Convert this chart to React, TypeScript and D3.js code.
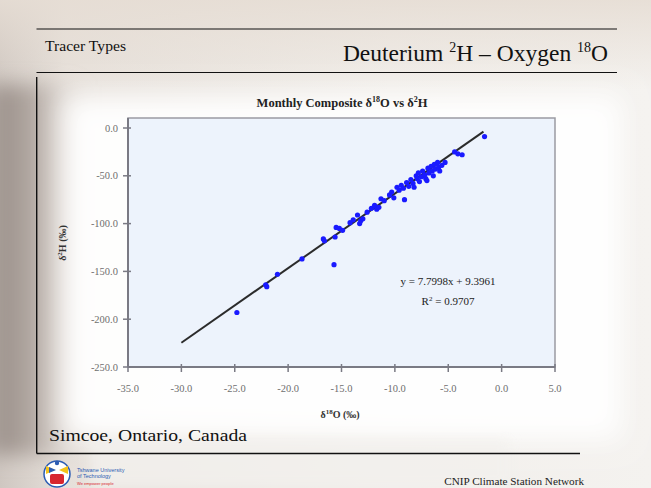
import React from "react";
import * as d3 from "d3";

// ---- data ----
const oxygen18 = [
  -24.8, -22.1, -22.0, -21.0, -18.7, -16.7, -16.6, -15.7, -15.6, -15.5,
  -15.2, -14.9, -14.2, -13.9, -13.5, -13.3, -13.2, -13.0, -12.6, -12.2,
  -11.9, -11.7, -11.5, -11.3, -11.0, -10.5, -10.3, -10.1, -9.8, -9.6,
  -9.4, -9.2, -9.1, -8.9, -8.7, -8.5, -8.3, -8.2, -8.0, -7.9,
  -7.8, -7.7, -7.5, -7.4, -7.2, -7.1, -7.0, -6.9, -6.8, -6.6,
  -6.5, -6.4, -6.3, -6.2, -6.0, -5.9, -5.8, -5.6, -5.3, -4.4,
  -4.1, -3.7, -1.6,
];
const deuterium2 = [
  -193, -164, -166, -153, -137, -116, -118, -143, -114, -104,
  -105, -107, -99, -96, -91, -100, -97, -95, -88, -84,
  -81, -85, -83, -74, -76, -70, -67, -73, -62, -65,
  -60, -63, -75, -57, -61, -54, -58, -62, -50, -53,
  -47, -56, -51, -45, -49, -53, -55, -42, -47, -40,
  -45, -50, -38, -43, -36, -41, -45, -39, -36, -25,
  -27, -28, -9,
];
const xTicks = [-35, -30, -25, -20, -15, -10, -5, 0, 5];
const yTicks = [0, -50, -100, -150, -200, -250];
const slope = 7.7998;
const intercept = 9.3961;
const rSquared = 0.9707;
const fitRange = [-30, -1.7];

const slideFont = "'Liberation Serif', 'Times New Roman', serif";

export default function App() {
  const W = 651;
  const H = 488;
  const x = d3.scaleLinear().domain([-35, 5]).range([128, 555]);
  const y = d3.scaleLinear().domain([-250, 0]).range([367, 128]);
  const plotTop = 118;
  const line = d3
    .line<number>()
    .x((d) => x(d))
    .y((d) => y(slope * d + intercept));
  const fmt = (v: number) => v.toFixed(1);

  return (
    <svg
      width={W}
      height={H}
      style={{ position: "absolute", left: 0, top: 0, display: "block" }}
      viewBox={`0 0 ${W} ${H}`}
    >
      <defs>
        <linearGradient id="bg" x1="0" y1="0" x2="1" y2="0">
          <stop offset="0" stopColor="#cfc7c1" />
          <stop offset="0.1" stopColor="#e6e0da" />
          <stop offset="0.6" stopColor="#f1eeea" />
          <stop offset="1" stopColor="#f4f2ef" />
        </linearGradient>
        <linearGradient id="leftband" x1="0" y1="0" x2="1" y2="0">
          <stop offset="0" stopColor="#978c86" stopOpacity="1" />
          <stop offset="0.4" stopColor="#a99f99" stopOpacity="0.9" />
          <stop offset="1" stopColor="#c8bfb9" stopOpacity="0" />
        </linearGradient>
        <linearGradient id="topfade" x1="0" y1="0" x2="0" y2="1">
          <stop offset="0" stopColor="#e6ddd4" stopOpacity="0.9" />
          <stop offset="1" stopColor="#e6ddd4" stopOpacity="0" />
        </linearGradient>
        <filter id="blur" x="-20%" y="-20%" width="140%" height="140%">
          <feGaussianBlur stdDeviation="14" />
        </filter>
        <filter id="blur2" x="-20%" y="-20%" width="140%" height="140%">
          <feGaussianBlur stdDeviation="6" />
        </filter>
        <filter id="blur3" x="-30%" y="-10%" width="160%" height="120%">
          <feGaussianBlur stdDeviation="10" />
        </filter>
      </defs>

      {/* slide background */}
      <rect x={0} y={0} width={W} height={H} fill="url(#bg)" />
      <rect x={0} y={0} width={W} height={90} fill="url(#topfade)" />
      <rect x={-10} y={85} width={95} height={370} fill="url(#leftband)" filter="url(#blur3)" />
      <rect x={62} y={95} width={560} height={345} fill="#ffffff" filter="url(#blur)" opacity={0.97} />
      <rect x={90} y={440} width={420} height={48} fill="#f3f1ee" filter="url(#blur2)" opacity={0.8} />

      {/* header */}
      <line x1={36.5} x2={617} y1={29} y2={29} stroke="#111" strokeWidth={1.2} />
      <line x1={36.5} x2={617} y1={72.5} y2={72.5} stroke="#111" strokeWidth={1.2} />
      <text x={45} y={50.5} fontFamily={slideFont} fontSize={14.5} fill="#111" textLength={81} lengthAdjust="spacingAndGlyphs">
        Tracer Types
      </text>
      <text x={608} y={61} textAnchor="end" fontFamily={slideFont} fontSize={23.5} fill="#111">
        Deuterium <tspan fontSize={14} dy={-9}>2</tspan>
        <tspan dy={9}>H – Oxygen </tspan>
        <tspan fontSize={14} dy={-9}>18</tspan>
        <tspan dy={9}>O</tspan>
      </text>

      {/* content frame */}
      <line x1={36.7} x2={36.7} y1={77} y2={453.5} stroke="#111" strokeWidth={1.4} />
      <line x1={36.7} x2={580} y1={453.5} y2={453.5} stroke="#111" strokeWidth={1.4} />

      {/* chart title */}
      <text x={342} y={107} textAnchor="middle" fontFamily={slideFont} fontWeight="bold" fontSize={12.5} fill="#222">
        Monthly Composite δ<tspan fontSize={8} dy={-5}>18</tspan>
        <tspan dy={5}>O vs δ</tspan>
        <tspan fontSize={8} dy={-5}>2</tspan>
        <tspan dy={5}>H</tspan>
      </text>

      {/* plot area */}
      <rect
        x={x(-35)}
        y={plotTop}
        width={x(5) - x(-35)}
        height={y(-250) - plotTop}
        fill="#edf3fc"
        stroke="#9a9aa2"
        strokeWidth={1.5}
      />
      <line x1={x(-35)} x2={x(-35)} y1={plotTop} y2={y(-250)} stroke="#7a7a84" strokeWidth={2} />
      <line x1={x(-35)} x2={x(5)} y1={y(-250)} y2={y(-250)} stroke="#7a7a84" strokeWidth={2} />

      {/* y ticks */}
      {yTicks.map((t) => (
        <g key={"y" + t}>
          <line x1={x(-35) - 5} x2={x(-35) + 3} y1={y(t)} y2={y(t)} stroke="#7a7a84" strokeWidth={1.5} />
          <text
            x={x(-35) - 10}
            y={y(t)}
            dy="0.35em"
            textAnchor="end"
            fontFamily={slideFont}
            fontSize={10.5}
            fill="#6e6e6e"
          >
            {fmt(t)}
          </text>
        </g>
      ))}
      {/* x ticks */}
      {xTicks.map((t) => (
        <g key={"x" + t}>
          <line x1={x(t)} x2={x(t)} y1={y(-250) - 3} y2={y(-250) + 5} stroke="#7a7a84" strokeWidth={1.5} />
          <text
            x={x(t)}
            y={388}
            dy="0.35em"
            textAnchor="middle"
            fontFamily={slideFont}
            fontSize={10.5}
            fill="#6e6e6e"
          >
            {fmt(t)}
          </text>
        </g>
      ))}

      {/* axis titles */}
      <text x={340} y={418} textAnchor="middle" fontFamily={slideFont} fontWeight="bold" fontSize={10} fill="#333">
        δ<tspan fontSize={7} dy={-4}>18</tspan>
        <tspan dy={4}>O (‰)</tspan>
      </text>
      <text
        transform={`translate(66,243) rotate(-90)`}
        textAnchor="middle"
        fontFamily={slideFont}
        fontWeight="bold"
        fontSize={10}
        fill="#333"
      >
        δ<tspan fontSize={7} dy={-4}>2</tspan>
        <tspan dy={4}>H (‰)</tspan>
      </text>

      {/* regression line */}
      <path d={line(fitRange) ?? ""} stroke="#2b2b2b" strokeWidth={2} fill="none" />

      {/* points */}
      {oxygen18.map((o, i) => (
        <circle key={i} cx={x(o)} cy={y(deuterium2[i])} r={2.6} fill="#1a1aff" />
      ))}

      {/* equation */}
      <text x={448} y={285} textAnchor="middle" fontFamily={slideFont} fontSize={11} fill="#222">
        {`y = ${slope.toFixed(4)}x + ${intercept.toFixed(4)}`}
      </text>
      <text x={448} y={305} textAnchor="middle" fontFamily={slideFont} fontSize={11} fill="#222">
        R<tspan fontSize={7} dy={-4}>2</tspan>
        <tspan dy={4}>{` = ${rSquared.toFixed(4)}`}</tspan>
      </text>

      {/* caption */}
      <text x={49} y={441} fontFamily={slideFont} fontSize={17} fill="#111" textLength={198} lengthAdjust="spacingAndGlyphs">
        Simcoe, Ontario, Canada
      </text>

      {/* footer */}
      <text x={584} y={485} textAnchor="end" fontFamily={slideFont} fontSize={11.2} fill="#222">
        CNIP Climate Station Network
      </text>
      <g>
        <circle cx={57} cy={474} r={13} fill="#fff" stroke="#2b5cb3" strokeWidth={1.5} />
        <circle cx={57} cy={463} r={2.2} fill="#2b5cb3" />
        <path d="M46,466 L55,470 L46,474 Z" fill="#f4c21a" />
        <path d="M68,466 L59,470 L68,474 Z" fill="#f4c21a" />
        <path d="M49,467 L56,470 L49,473 Z" fill="#2b5cb3" />
        <rect x={50} y={474} width={14} height={10} rx={2} fill="#d8262e" />
        <text x={77} y={472} fontFamily="'Liberation Sans', Arial, sans-serif" fontSize={5.5} fill="#2b5cb3">
          Tshwane University
        </text>
        <text x={77} y={478} fontFamily="'Liberation Sans', Arial, sans-serif" fontSize={5.5} fill="#2b5cb3">
          of Technology
        </text>
        <text x={77} y={485} fontFamily="'Liberation Sans', Arial, sans-serif" fontSize={4} fill="#d8262e">
          We empower people
        </text>
      </g>
    </svg>
  );
}
